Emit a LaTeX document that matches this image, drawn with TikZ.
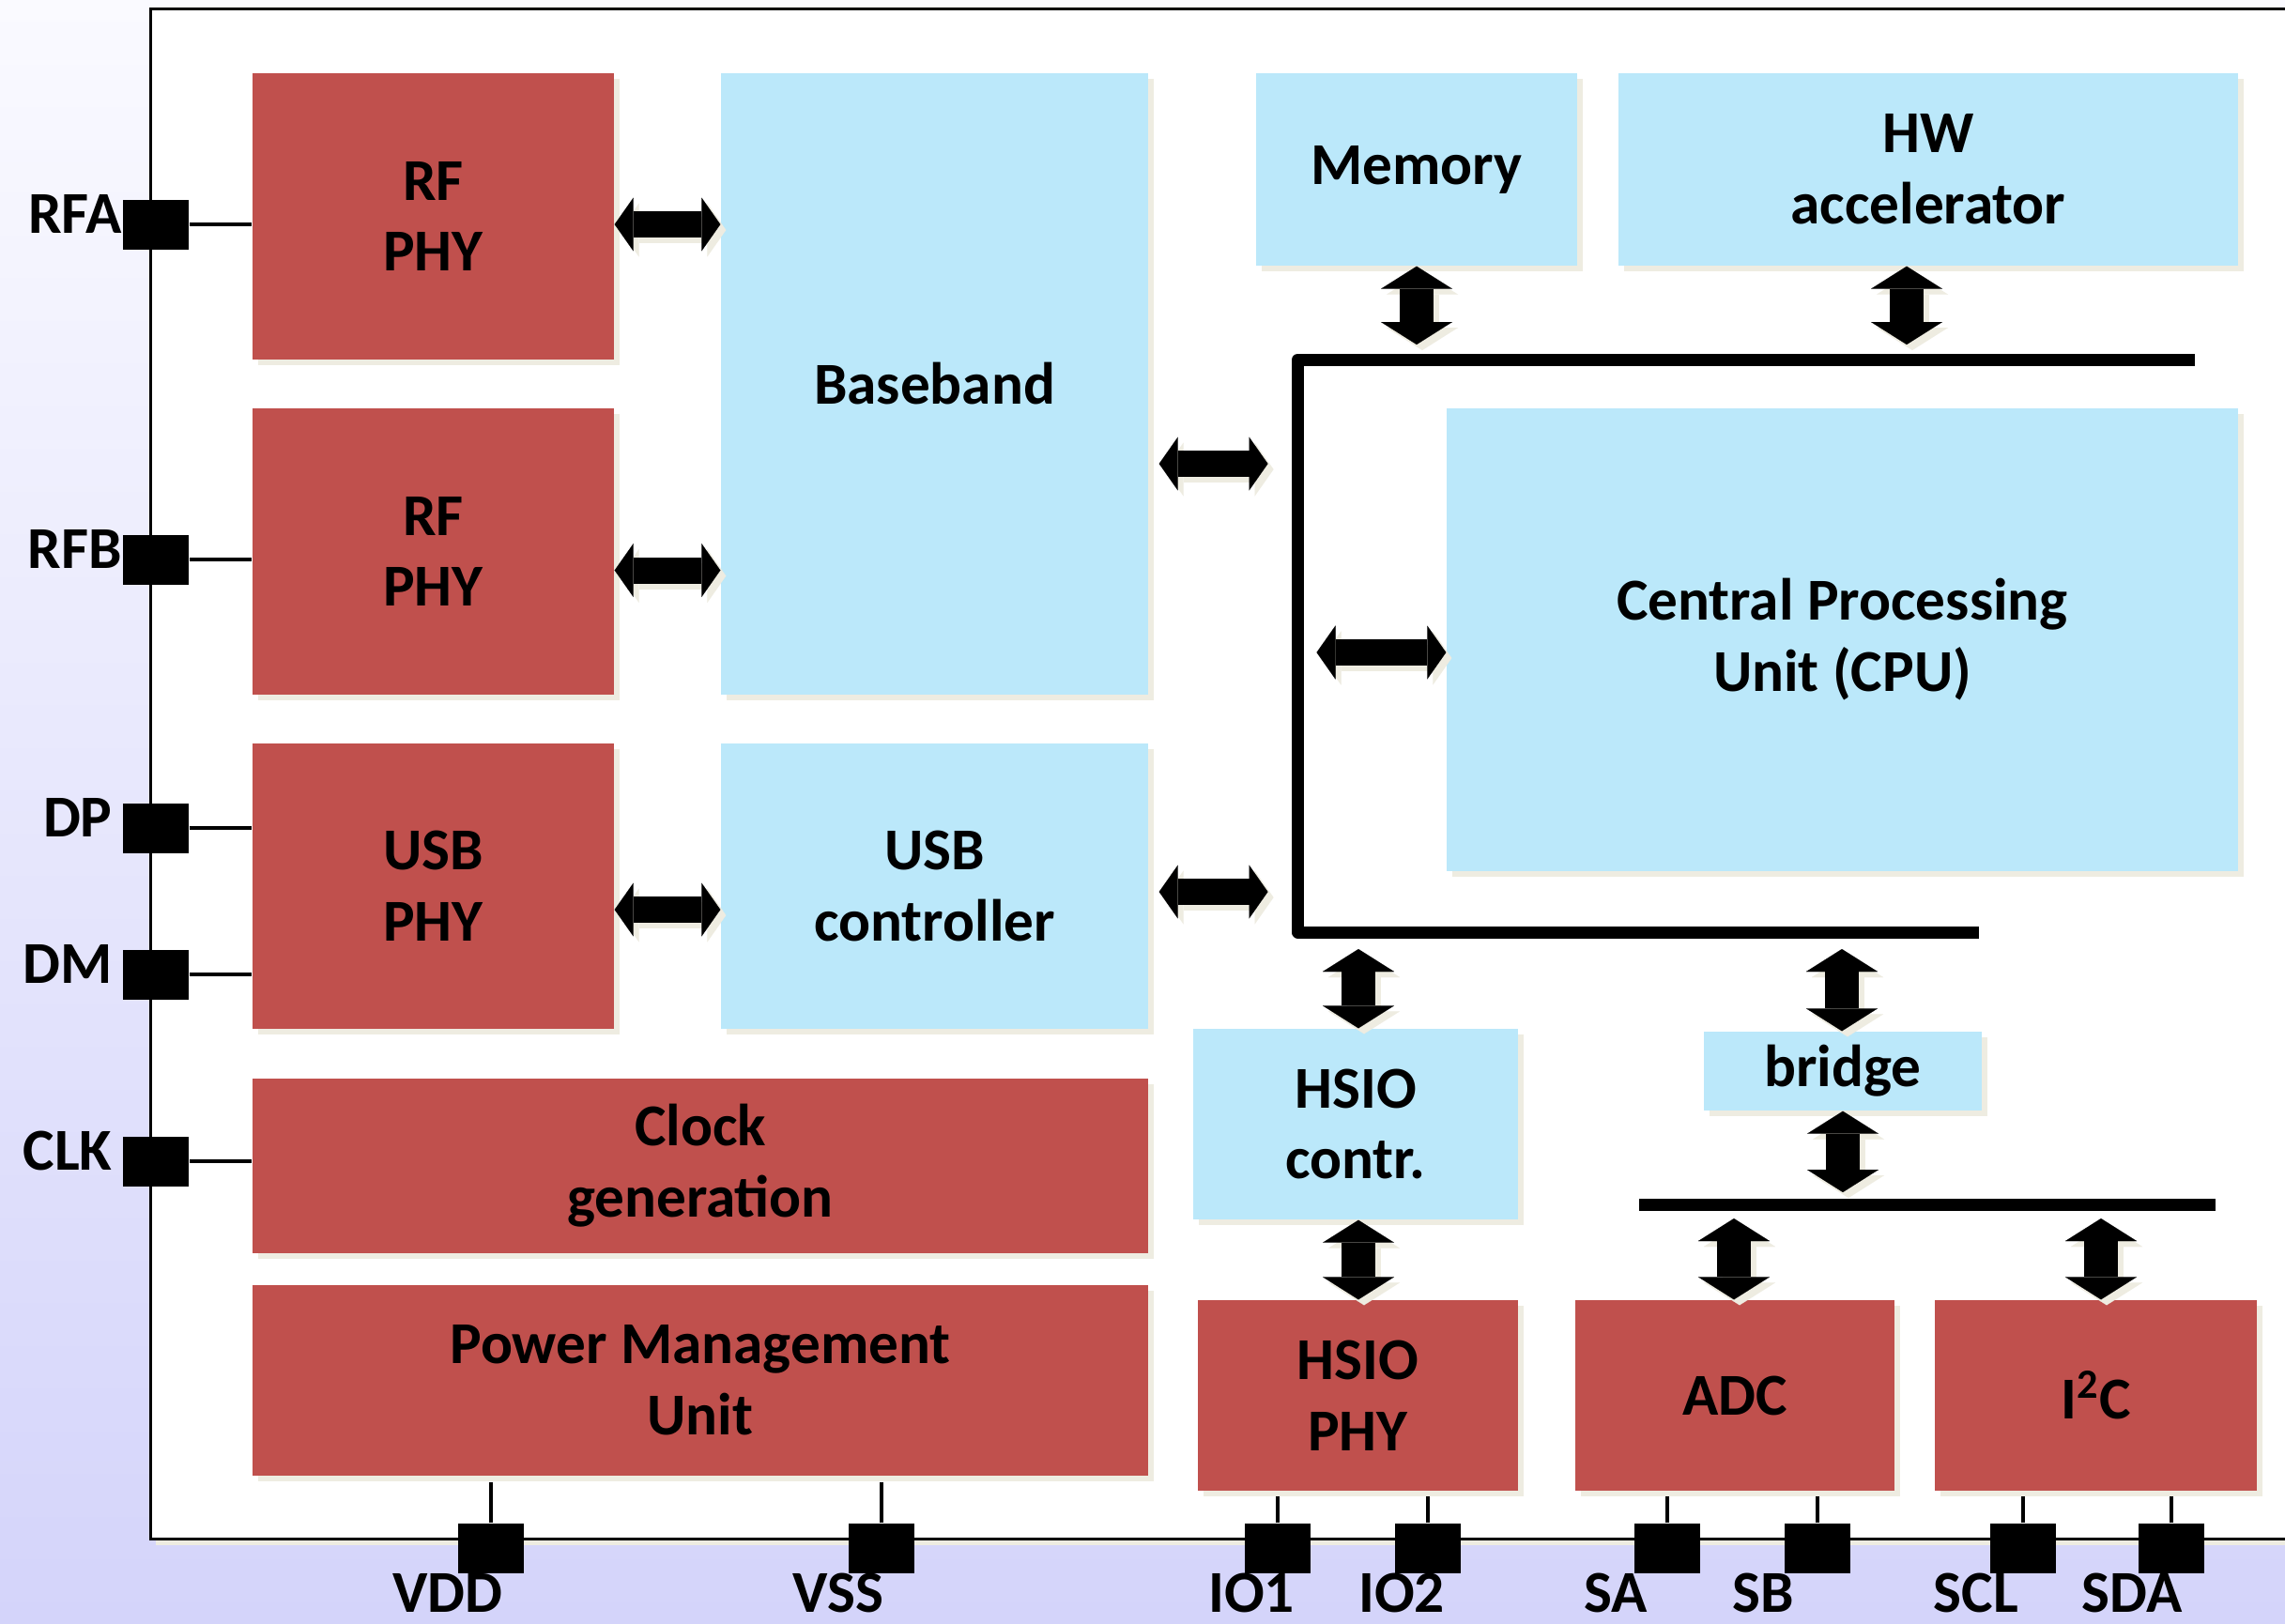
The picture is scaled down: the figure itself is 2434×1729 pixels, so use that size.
\documentclass[tikz,border=0pt]{standalone}
\usepackage{fontspec}
\setmainfont{Carlito}
\usetikzlibrary{arrows.meta,shadows,calc}

\definecolor{blkred}{RGB}{192,80,77}
\definecolor{blkblue}{RGB}{187,232,250}
\definecolor{shadowcream}{RGB}{238,236,225}
\definecolor{bgtop}{RGB}{250,250,255}
\definecolor{bgbot}{RGB}{212,212,250}

% block arrow with its offset shadow
\newcommand\linkarrow[3]{%
  \draw[#1, color=shadowcream, transform canvas={shift={(0.6mm,-0.6mm)}}] #2 -- #3;
  \draw[#1, color=black] #2 -- #3;}

\begin{document}
\begin{tikzpicture}[x=0.1mm, y=-0.1mm,
  every node/.style={font=\fontsize{18}{21.6}\selectfont\bfseries},
  blk/.style={inner sep=0pt, align=center,
    drop shadow={shadow xshift=0.6mm, shadow yshift=-0.6mm, fill=shadowcream, opacity=1}},
  redblk/.style={blk, fill=blkred},
  blueblk/.style={blk, fill=blkblue},
  pinsq/.style={fill=black, minimum width=7mm, minimum height=5.3mm, inner sep=0pt},
  wire/.style={line width=0.45mm},
  busline/.style={line width=1.3mm, line join=round},
  harr/.style={line width=2.8mm,
    arrows={Triangle[length=2mm,width=5.7mm,line width=0.01pt]-Triangle[length=2mm,width=5.7mm,line width=0.01pt]}},
  varr/.style={line width=3.6mm,
    arrows={Triangle[length=2.4mm,width=7.6mm,line width=0.01pt]-Triangle[length=2.4mm,width=7.6mm,line width=0.01pt]}},
  pinlbl/.style={inner sep=0pt}
]
\clip (0,0) rectangle (2434,1729);
\fill[top color=bgtop, bottom color=bgbot] (0,0) rectangle (2434,1729);

% chip outline
\fill[shadowcream] (166,15) rectangle (2480,1646);
\draw[line width=0.3mm, fill=white] (160,9) rectangle (2480,1639);

% functional blocks
\node[redblk, minimum width=38.5mm, minimum height=30.5mm] (rf1) at (461.5,230.5) {RF\\PHY};
\node[redblk, minimum width=38.5mm, minimum height=30.5mm] (rf2) at (461.5,587.5) {RF\\PHY};
\node[redblk, minimum width=38.5mm, minimum height=30.4mm] (usbphy) at (461.5,944) {USB\\PHY};
\node[redblk, minimum width=95.4mm, minimum height=18.6mm] (clk) at (746,1242) {Clock\\generation};
\node[redblk, minimum width=95.4mm, minimum height=20.3mm] (pmu) at (746,1470.5) {Power Management\\Unit};
\node[blueblk, minimum width=45.5mm, minimum height=66.2mm] (bb) at (995.5,409) {Baseband};
\node[blueblk, minimum width=45.5mm, minimum height=30.4mm] (usbc) at (995.5,944) {USB\\controller};
\node[blueblk, minimum width=34.2mm, minimum height=20.5mm] (mem) at (1509,180.5) {Memory};
\node[blueblk, minimum width=66mm, minimum height=20.5mm] (hw) at (2054,180.5) {HW\\accelerator};
\node[blueblk, minimum width=84.3mm, minimum height=49.3mm] (cpu) at (1962.5,681.5) {Central Processing\\Unit (CPU)};
\node[blueblk, minimum width=34.6mm, minimum height=20.3mm] (hsioc) at (1444,1197.5) {HSIO\\contr.};
\node[blueblk, minimum width=29.6mm, minimum height=8.4mm] (bridge) at (1963,1141) {bridge};
\node[redblk, minimum width=34.1mm, minimum height=20.3mm] (hsiop) at (1446.5,1486.5) {HSIO\\PHY};
\node[redblk, minimum width=34mm, minimum height=20.3mm] (adc) at (1848,1486.5) {ADC};
\node[redblk, minimum width=34.3mm, minimum height=20.3mm] (i2c) at (2232.5,1486.5) {I\textsuperscript{2}C};

% on-chip buses
\coordinate (busA) at (2338,383);
\coordinate (busB) at (1382.5,383);
\coordinate (busC) at (1382.5,993);
\coordinate (busD) at (2108,993);
\draw[busline] (busA) -- (busB) -- (busC) -- (busD);
\coordinate (lbusL) at (1746,1283);
\coordinate (lbusR) at (2360,1283);
\draw[busline, line cap=butt] (lbusL) -- (lbusR);

% bus attachment points
\coordinate (busBB) at (1382.5,494);
\coordinate (busUC) at (1382.5,950);
\coordinate (busCPU) at (1382.5,695);
\coordinate (busMem) at (1509,383);
\coordinate (busHW) at (2031,383);
\coordinate (busHS) at (1447,993);
\coordinate (busBr) at (1962,993);
\coordinate (lbBr) at (1963,1283);
\coordinate (lbADC) at (1847,1283);
\coordinate (lbI2C) at (2238,1283);

% package pins
\node[pinsq] (pRFA) at (166,239) {};
\node[pinsq] (pRFB) at (166,596) {};
\node[pinsq] (pDP) at (166,882) {};
\node[pinsq] (pDM) at (166,1038) {};
\node[pinsq] (pCLK) at (166,1237) {};
\node[pinsq] (pVDD) at (523,1649.5) {};
\node[pinsq] (pVSS) at (939,1649.5) {};
\node[pinsq] (pIO1) at (1361,1649.5) {};
\node[pinsq] (pIO2) at (1521,1649.5) {};
\node[pinsq] (pSA) at (1776,1649.5) {};
\node[pinsq] (pSB) at (1936,1649.5) {};
\node[pinsq] (pSCL) at (2155,1649.5) {};
\node[pinsq] (pSDA) at (2313,1649.5) {};

% pin wiring
\draw[wire] (pRFA.east) -- (pRFA -| rf1.west);
\draw[wire] (pRFB.east) -- (pRFB -| rf2.west);
\draw[wire] (pDP.east) -- (pDP -| usbphy.west);
\draw[wire] (pDM.east) -- (pDM -| usbphy.west);
\draw[wire] (pCLK.east) -- (pCLK -| clk.west);
\draw[wire, shorten >=0.6mm] (pVDD.north) -- (pVDD.north |- pmu.south);
\draw[wire, shorten >=0.6mm] (pVSS.north) -- (pVSS.north |- pmu.south);
\draw[wire, shorten >=0.5mm] (pIO1.north) -- (pIO1.north |- hsiop.south);
\draw[wire, shorten >=0.5mm] (pIO2.north) -- (pIO2.north |- hsiop.south);
\draw[wire, shorten >=0.5mm] (pSA.north) -- (pSA.north |- adc.south);
\draw[wire, shorten >=0.5mm] (pSB.north) -- (pSB.north |- adc.south);
\draw[wire, shorten >=0.5mm] (pSCL.north) -- (pSCL.north |- i2c.south);
\draw[wire, shorten >=0.5mm] (pSDA.north) -- (pSDA.north |- i2c.south);

% pin labels
\node[pinlbl, anchor=base east] at ([yshift=-0.9mm]pRFA.west) {RFA};
\node[pinlbl, anchor=base east] at ([yshift=-0.9mm]pRFB.west) {RFB};
\node[pinlbl, anchor=base east] at ([xshift=-1mm, yshift=-0.9mm]pDP.west) {DP};
\node[pinlbl, anchor=base east] at ([xshift=-1mm, yshift=-0.9mm]pDM.west) {DM};
\node[pinlbl, anchor=base east] at ([xshift=-1mm, yshift=-0.9mm]pCLK.west) {CLK};
\node[pinlbl, anchor=base] at ([xshift=-4.6mm, yshift=-6.8mm]pVDD.center) {VDD};
\node[pinlbl, anchor=base] at ([xshift=-4.6mm, yshift=-6.8mm]pVSS.center) {VSS};
\node[pinlbl, anchor=base] at ([xshift=-2.8mm, yshift=-6.8mm]pIO1.center) {IO1};
\node[pinlbl, anchor=base] at ([xshift=-2.8mm, yshift=-6.8mm]pIO2.center) {IO2};
\node[pinlbl, anchor=base] at ([xshift=-5.5mm, yshift=-6.8mm]pSA.center) {SA};
\node[pinlbl, anchor=base] at ([xshift=-5.8mm, yshift=-6.8mm]pSB.center) {SB};
\node[pinlbl, anchor=base] at ([xshift=-5mm, yshift=-6.8mm]pSCL.center) {SCL};
\node[pinlbl, anchor=base] at ([xshift=-4.2mm, yshift=-6.8mm]pSDA.center) {SDA};

% data paths
\coordinate (arRF2) at ([yshift=-2mm]rf2.east);
\coordinate (arUSB) at ([yshift=-2.5mm]usbphy.east);
\linkarrow{harr}{(pRFA -| rf1.east)}{(pRFA -| bb.west)}
\linkarrow{harr}{(arRF2)}{(arRF2 -| bb.west)}
\linkarrow{harr}{(arUSB)}{(arUSB -| usbc.west)}
\linkarrow{harr, shorten <=1.1mm, shorten >=3.2mm}{(busBB -| bb.east)}{(busBB)}
\linkarrow{harr, shorten <=1.1mm, shorten >=3.2mm}{(busUC -| usbc.east)}{(busUC)}
\linkarrow{harr, shorten <=2mm}{(busCPU)}{(busCPU -| cpu.west)}
\linkarrow{varr, shorten >=1.6mm}{(busMem |- mem.south)}{(busMem)}
\linkarrow{varr, shorten >=1.6mm}{(busHW |- hw.south)}{(busHW)}
\linkarrow{varr, shorten <=1.8mm}{(busHS)}{(busHS |- hsioc.north)}
\linkarrow{varr, shorten <=1.8mm}{(busBr)}{(busBr |- bridge.north)}
\linkarrow{varr, shorten >=1.3mm}{(lbBr |- bridge.south)}{(lbBr)}
\linkarrow{varr, shorten <=1.5mm}{(lbADC)}{(lbADC |- adc.north)}
\linkarrow{varr, shorten <=1.5mm}{(lbI2C)}{(lbI2C |- i2c.north)}
\linkarrow{varr}{(busHS |- hsioc.south)}{(busHS |- hsiop.north)}
\end{tikzpicture}
\end{document}
